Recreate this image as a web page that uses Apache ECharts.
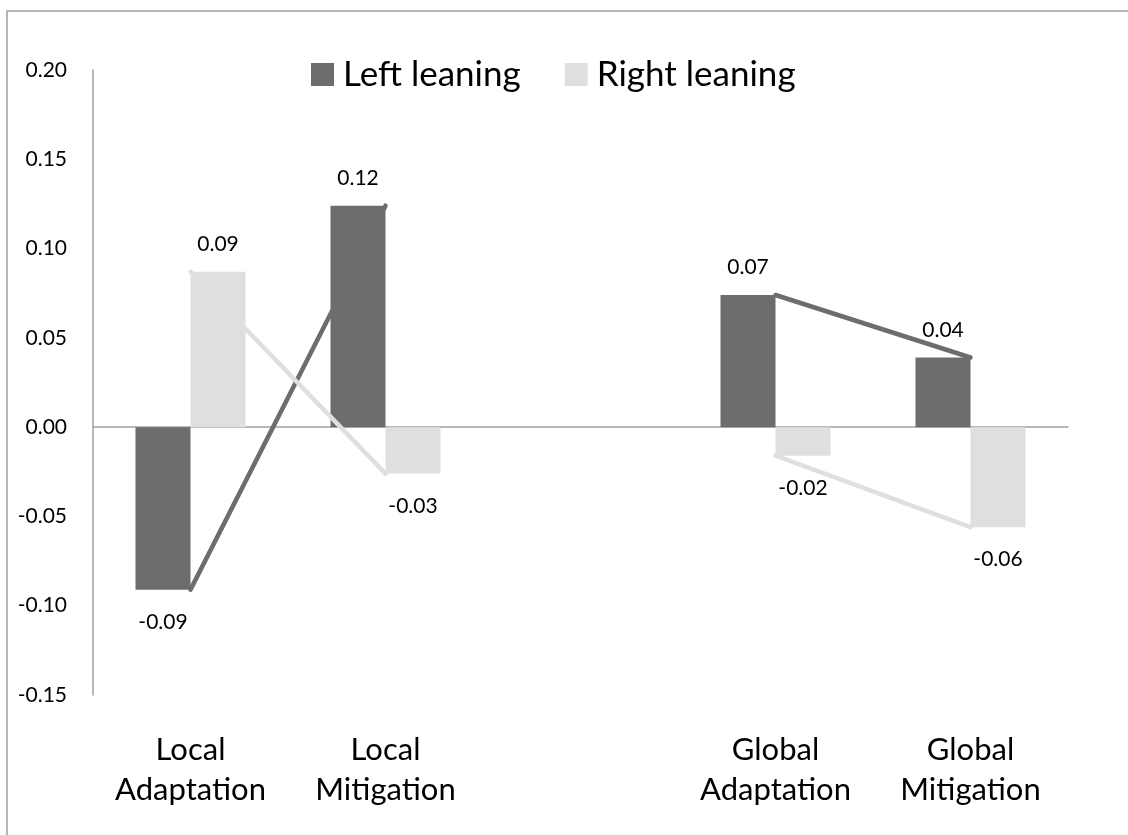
<!DOCTYPE html>
<html>
<head>
<meta charset="utf-8">
<style>
  html, body { margin: 0; padding: 0; background: #fff; }
  #chart { width: 1128px; height: 835px; }
</style>
<script src="https://cdn.jsdelivr.net/npm/echarts@6/dist/echarts.min.js"></script>
</head>
<body>
<div id="chart"></div>
<script>
// Categories (the empty slot separates the local and global groups)
const categories = ['Local\nAdaptation', 'Local\nMitigation', '', 'Global\nAdaptation', 'Global\nMitigation'];

// Mean differences by political leaning
const leftLeaning  = [-0.091, 0.124, null, 0.074, 0.039];
const rightLeaning = [0.087, -0.026, null, -0.016, -0.056];

const seriesNames = ['Left leaning', 'Right leaning'];

// Value axis range
const yMin = -0.15;
const yMax = 0.20;
const yStep = 0.05;

const DARK = '#6d6d6d';
const LIGHT = '#dfdfdf';
const AXIS = '#a0a0a0';
const FONT = 'Lato, "Open Sans", sans-serif';

// Bar data items: labels sit above positive bars and below negative ones
function barItems(values) {
  return values.map(v => v === null ? null : {
    value: v,
    label: {
      position: v >= 0 ? 'top' : 'bottom',
      distance: v >= 0 ? 17 : 22
    }
  });
}

const chart = echarts.init(document.getElementById('chart'), null, { renderer: 'canvas' });

chart.setOption({
  backgroundColor: '#fff',
  animation: false,
  graphic: [{
    type: 'rect',
    shape: { x: 7, y: 11, width: 1400, height: 1000 },
    style: { fill: 'none', stroke: AXIS, lineWidth: 1.5 },
    silent: true,
    z: 0
  }],
  legend: {
    data: seriesNames,
    icon: 'rect',
    top: 52,
    left: 306,
    itemWidth: 23,
    itemHeight: 23,
    itemGap: 44,
    textStyle: { fontFamily: FONT, fontSize: 35, color: '#000', padding: [0, 0, 0, 4] }
  },
  grid: { left: 93, right: 60, top: 70, bottom: 140, containLabel: false },
  xAxis: [{
    type: 'category',
    data: categories,
    position: 'bottom',
    axisLine: { show: true, onZero: true, lineStyle: { color: AXIS, width: 1.5 } },
    axisTick: { show: false },
    axisLabel: { show: false },
    splitLine: { show: false }
  }, {
    type: 'category',
    data: categories,
    position: 'bottom',
    axisLine: { show: false, onZero: false },
    axisTick: { show: false },
    axisLabel: {
      show: true,
      interval: 0,
      margin: 35,
      fontFamily: FONT,
      fontSize: 31,
      lineHeight: 40,
      color: '#000'
    },
    splitLine: { show: false }
  }],
  yAxis: {
    type: 'value',
    min: yMin,
    max: yMax,
    interval: yStep,
    axisLine: { show: true, lineStyle: { color: AXIS, width: 1.5 } },
    axisTick: { show: false },
    splitLine: { show: false },
    axisLabel: {
      margin: 26,
      fontFamily: FONT,
      fontSize: 21,
      color: '#000',
      formatter: v => v.toFixed(2)
    }
  },
  series: [{
    name: seriesNames[0],
    type: 'bar',
    xAxisIndex: 0,
    data: barItems(leftLeaning),
    barWidth: 55,
    barGap: '0%',
    itemStyle: { color: DARK },
    label: {
      show: true,
      fontFamily: FONT,
      fontSize: 21,
      color: '#000',
      formatter: p => p.value.toFixed(2)
    },
    z: 2
  }, {
    name: seriesNames[1],
    type: 'bar',
    xAxisIndex: 0,
    data: barItems(rightLeaning),
    barWidth: 55,
    barGap: '0%',
    itemStyle: { color: LIGHT },
    label: {
      show: true,
      fontFamily: FONT,
      fontSize: 21,
      color: '#000',
      formatter: p => p.value.toFixed(2)
    },
    z: 2
  }, {
    name: 'Left trend',
    type: 'line',
    xAxisIndex: 0,
    data: leftLeaning,
    connectNulls: false,
    symbol: 'none',
    lineStyle: { color: DARK, width: 4.5, cap: 'round', join: 'round' },
    z: 3
  }, {
    name: 'Right trend',
    type: 'line',
    xAxisIndex: 0,
    data: rightLeaning,
    connectNulls: false,
    symbol: 'none',
    lineStyle: { color: LIGHT, width: 4.5, cap: 'round', join: 'round' },
    z: 3
  }]
});
</script>
</body>
</html>
